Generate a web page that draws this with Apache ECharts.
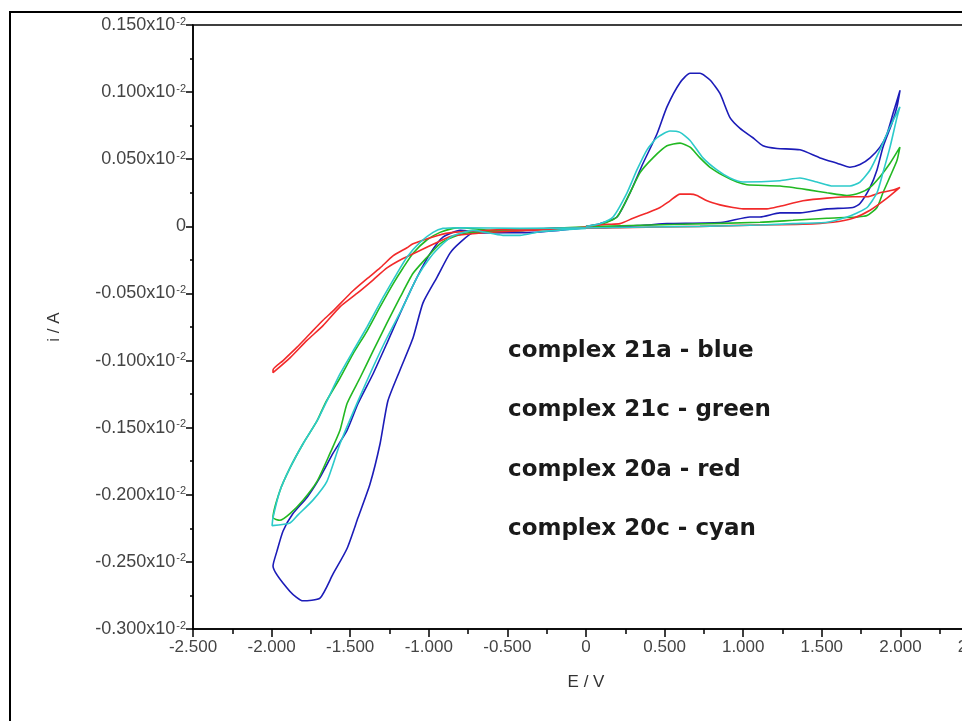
<!DOCTYPE html>
<html>
<head>
<meta charset="utf-8">
<script src="https://cdn.jsdelivr.net/npm/echarts@6/dist/echarts.min.js"></script>
<style>
  html, body { margin: 0; padding: 0; background: #fff; }
  #chart { width: 962px; height: 721px; }
</style>
</head>
<body>
<div id="chart"></div>
<script>
// Cyclic voltammograms: potential E (V) vs current i (in units of 10^-2 A).
// Each loop runs 0 V -> +2 V -> back through 0 V -> -2 V -> back toward 0 V.

const blueE = [0, 0.089, 0.197, 0.280, 0.363, 0.452, 0.515, 0.598, 0.662, 0.725, 0.789, 0.852, 0.916, 0.980, 1.062, 1.126, 1.215, 1.361, 1.489, 1.597, 1.679, 1.743, 1.807, 1.870, 1.915, 1.953, 1.997,
  1.978, 1.947, 1.889, 1.851, 1.807, 1.743, 1.698, 1.533, 1.361, 1.234, 1.107, 1.043, 0.871, 0.515, 0.388, 0.089, -0.165, -0.420, -0.674, -0.800,
  -0.910, -0.990, -1.075, -1.164, -1.266, -1.355, -1.450, -1.520, -1.609, -1.692, -1.775, -1.864, -1.927, -1.966, -1.991,
  -1.883, -1.800, -1.692, -1.609, -1.520, -1.450, -1.374, -1.310, -1.260, -1.183, -1.100, -1.037, -0.948, -0.865, -0.800, -0.719, -0.337, 0];
const blueI = [0, 0.002, 0.007, 0.025, 0.047, 0.069, 0.089, 0.107, 0.114, 0.114, 0.109, 0.099, 0.081, 0.073, 0.066, 0.060, 0.058, 0.057, 0.051, 0.047, 0.044, 0.046, 0.051, 0.059, 0.069, 0.084, 0.101,
  0.089, 0.077, 0.059, 0.042, 0.029, 0.017, 0.014, 0.013, 0.010, 0.010, 0.007, 0.007, 0.003, 0.002, 0.001, -0.001, -0.001, -0.003, -0.004, -0.003,
  -0.008, -0.020, -0.038, -0.060, -0.087, -0.110, -0.132, -0.152, -0.169, -0.187, -0.202, -0.214, -0.227, -0.242, -0.253,
  -0.272, -0.279, -0.277, -0.259, -0.240, -0.217, -0.192, -0.162, -0.130, -0.107, -0.083, -0.057, -0.038, -0.020, -0.012, -0.005, -0.0045, -0.001];

const greenE = [0, 0.108, 0.197, 0.280, 0.344, 0.426, 0.515, 0.598, 0.662, 0.725, 0.789, 0.871, 0.961, 1.024, 1.234, 1.425, 1.533, 1.660, 1.743, 1.807, 1.870, 1.934, 1.997,
  1.978, 1.934, 1.889, 1.851, 1.788, 1.724, 1.533, 1.317, 1.107, 0.617, 0.089, -0.300, -0.600, -0.800,
  -0.846, -0.929, -1.011, -1.100, -1.164, -1.228, -1.310, -1.393, -1.482, -1.565, -1.660, -1.711, -1.800, -1.883, -1.947, -1.991,
  -1.947, -1.883, -1.800, -1.711, -1.628, -1.565, -1.520, -1.438, -1.355, -1.266, -1.183, -1.100, -1.011, -0.929, -0.846, -0.757, -0.400, 0];
const greenI = [0, 0.002, 0.007, 0.025, 0.040, 0.051, 0.060, 0.062, 0.059, 0.051, 0.044, 0.038, 0.033, 0.031, 0.030, 0.027, 0.025, 0.023, 0.025, 0.029, 0.037, 0.047, 0.059,
  0.049, 0.037, 0.025, 0.014, 0.008, 0.007, 0.006, 0.0045, 0.003, 0.0015, 0.000, -0.002, -0.003, -0.001,
  -0.0015, -0.0045, -0.010, -0.020, -0.031, -0.043, -0.060, -0.078, -0.095, -0.113, -0.132, -0.145, -0.162, -0.180, -0.197, -0.217,
  -0.219, -0.214, -0.204, -0.190, -0.169, -0.152, -0.132, -0.113, -0.093, -0.072, -0.053, -0.035, -0.023, -0.013, -0.008, -0.005, -0.003, -0.001];

const redE = [0, 0.134, 0.216, 0.299, 0.388, 0.471, 0.534, 0.598, 0.662, 0.706, 0.770, 0.852, 0.935, 0.999, 1.151, 1.234, 1.380, 1.533, 1.698, 1.788, 1.870, 1.953, 1.997,
  1.915, 1.807, 1.698, 1.571, 1.380, 1.107, 0.725, 0.216, -0.420,
  -0.846, -0.948, -1.100, -1.139, -1.228, -1.310, -1.393, -1.482, -1.609, -1.673, -1.756, -1.838, -1.927, -1.991,
  -1.991, -1.883, -1.775, -1.673, -1.565, -1.457, -1.355, -1.266, -1.164, -1.056, -0.948, -0.846, -0.547, -0.165, 0];
const redI = [0, 0.0015, 0.002, 0.006, 0.010, 0.014, 0.019, 0.024, 0.024, 0.023, 0.019, 0.016, 0.014, 0.013, 0.013, 0.015, 0.019, 0.021, 0.022, 0.022, 0.025, 0.027, 0.029,
  0.021, 0.012, 0.006, 0.003, 0.0015, 0.001, 0.000, -0.001, -0.002,
  -0.0045, -0.007, -0.013, -0.016, -0.022, -0.031, -0.039, -0.048, -0.063, -0.070, -0.080, -0.090, -0.100, -0.107,
  -0.109, -0.098, -0.085, -0.074, -0.060, -0.050, -0.040, -0.031, -0.024, -0.018, -0.012, -0.007, -0.004, -0.002, -0.0005];

const cyanE = [0, 0.089, 0.172, 0.261, 0.324, 0.388, 0.452, 0.534, 0.598, 0.662, 0.744, 0.833, 0.916, 0.999, 1.234, 1.361, 1.469, 1.571, 1.679, 1.743, 1.807, 1.870, 1.934, 1.997,
  1.978, 1.934, 1.889, 1.851, 1.788, 1.724, 1.660, 1.533, 1.317, 1.107, 0.725, 0.089, -0.420, -0.800,
  -0.910, -0.973, -1.056, -1.139, -1.202, -1.291, -1.393, -1.482, -1.565, -1.648, -1.711, -1.800, -1.883, -1.947, -1.991, -1.997,
  -1.883, -1.832, -1.737, -1.648, -1.565, -1.450, -1.355, -1.266, -1.164, -1.075, -0.990, -0.910, -0.846, -0.719, -0.528, -0.420, -0.293, 0];
const cyanI = [0, 0.002, 0.007, 0.025, 0.042, 0.057, 0.066, 0.071, 0.070, 0.064, 0.051, 0.042, 0.036, 0.033, 0.034, 0.036, 0.033, 0.030, 0.030, 0.033, 0.042, 0.057, 0.074, 0.089,
  0.081, 0.059, 0.040, 0.025, 0.014, 0.010, 0.007, 0.003, 0.002, 0.001, 0.000, -0.001, -0.0015, -0.001,
  -0.0015, -0.0045, -0.012, -0.023, -0.035, -0.053, -0.075, -0.093, -0.110, -0.130, -0.145, -0.162, -0.180, -0.197, -0.217, -0.223,
  -0.221, -0.215, -0.204, -0.190, -0.162, -0.130, -0.105, -0.083, -0.060, -0.038, -0.023, -0.013, -0.007, -0.003, -0.0067, -0.0067, -0.004, -0.0015];

const seriesNames = ['complex 21a', 'complex 21c', 'complex 20a', 'complex 20c'];
const seriesColors = ['#1c1cb8', '#22b822', '#f22a2a', '#2ccaca'];
const annotationLines = ['complex 21a - blue', 'complex 21c - green', 'complex 20a - red', 'complex 20c - cyan'];

const xMin = -2.5, xMax = 2.5, xStep = 0.5;
const yMin = -0.3, yMax = 0.15, yStep = 0.05;

function zip(es, is) { return es.map((e, k) => [e, is[k]]); }
const loops = [zip(blueE, blueI), zip(greenE, greenI), zip(redE, redI), zip(cyanE, cyanI)];

const tickFont = '"Liberation Sans", Arial, sans-serif';

const chart = echarts.init(document.getElementById('chart'), null, { renderer: 'canvas' });

chart.setOption({
  animation: false,
  backgroundColor: '#ffffff',
  grid: {
    left: 193, top: 25, width: 786, height: 604,
    outerBoundsMode: 'none', containLabel: false,
    show: true, borderColor: '#000', borderWidth: 1.5
  },
  xAxis: {
    type: 'value', min: xMin, max: xMax, interval: xStep,
    name: 'E / V', nameLocation: 'middle', nameGap: 45,
    nameTextStyle: { fontFamily: tickFont, fontSize: 17, color: '#333' },
    axisLine: { onZero: false, lineStyle: { color: '#000', width: 1.5 } },
    axisTick: { show: true, inside: false, length: 8, lineStyle: { color: '#000', width: 1.5 } },
    minorTick: { show: true, splitNumber: 2, length: 5, lineStyle: { color: '#000', width: 1.5 } },
    splitLine: { show: false },
    axisLabel: {
      margin: 10, fontFamily: tickFont, fontSize: 17, color: '#444',
      formatter: v => Math.abs(v) < 1e-9 ? '0' : v.toFixed(3)
    }
  },
  yAxis: {
    type: 'value', min: yMin, max: yMax, interval: yStep,
    name: 'i / A', nameLocation: 'middle', nameGap: 130, nameRotate: 90,
    nameTextStyle: { fontFamily: tickFont, fontSize: 17, color: '#333' },
    axisLine: { onZero: false, lineStyle: { color: '#000', width: 1.5 } },
    axisTick: { show: true, inside: false, length: 7, lineStyle: { color: '#000', width: 1.5 } },
    minorTick: { show: true, splitNumber: 2, length: 3, lineStyle: { color: '#000', width: 1.5 } },
    splitLine: { show: false },
    axisLabel: {
      margin: 7, color: '#444',
      formatter: v => Math.abs(v) < 1e-9 ? '{m|0}' : '{m|' + v.toFixed(3) + 'x10}{s|-2}',
      rich: {
        m: { fontFamily: tickFont, fontSize: 18, color: '#444', lineHeight: 18 },
        s: { fontFamily: tickFont, fontSize: 11, color: '#444', verticalAlign: 'top', lineHeight: 18, padding: [0, 0, 0, 1] }
      }
    }
  },
  graphic: [
    { type: 'polyline', silent: true, shape: { points: [[10, 721], [10, 12], [962, 12]] },
      style: { stroke: '#000', lineWidth: 2, fill: null } },
    ...annotationLines.map((t, k) => ({
      type: 'text', silent: true, x: 508, y: 351 + k * 59.3,
      style: { text: t, font: 'bold 23px "DejaVu Sans", Verdana, sans-serif', fill: '#1a1a1a', textVerticalAlign: 'middle' }
    }))
  ],
  series: loops.map((d, k) => ({
    name: seriesNames[k], type: 'line', data: d,
    showSymbol: false, smooth: 0.2, clip: true,
    lineStyle: { color: seriesColors[k], width: 1.6 },
    z: 2 + k
  }))
});
</script>
</body>
</html>
